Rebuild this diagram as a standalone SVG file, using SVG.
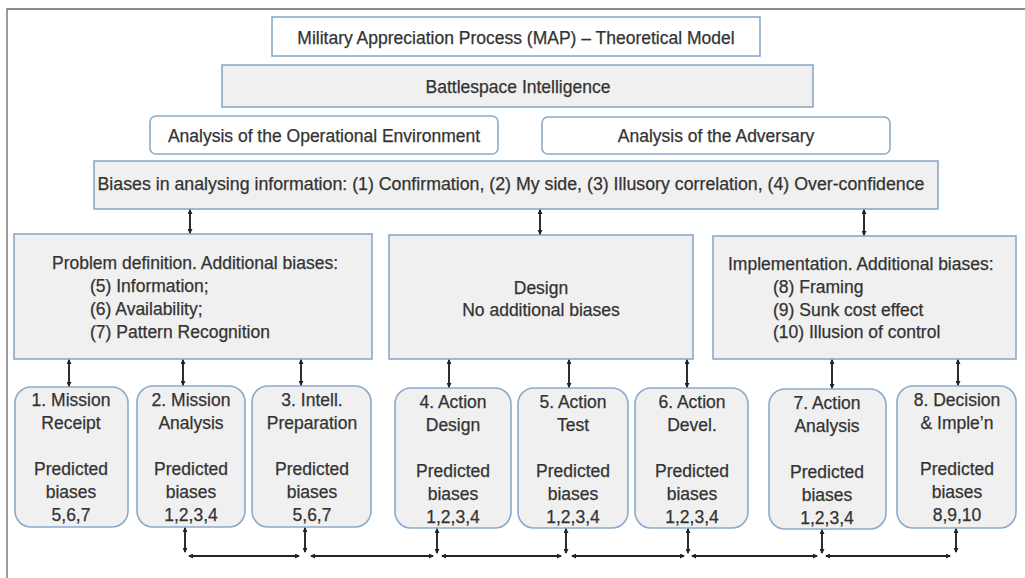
<svg xmlns="http://www.w3.org/2000/svg" width="1025" height="578" viewBox="0 0 1025 578">
<defs>
<style>
text{font-family:"Liberation Sans",Arial,sans-serif;font-size:17.5px;fill:#333;stroke:#333;stroke-width:0.25;}
.c{text-anchor:middle;}
.w{fill:#ffffff;stroke:#8aaacb;stroke-width:1.6;}
.g{fill:#f0f0f0;stroke:#8aaacb;stroke-width:1.6;}
.ln{stroke:#222;stroke-width:1.9;fill:none;marker-start:url(#ah);marker-end:url(#ah);}
</style>
<marker id="ah" viewBox="0 0 10 10" refX="8" refY="5" markerWidth="5" markerHeight="5" orient="auto-start-reverse" markerUnits="userSpaceOnUse">
<path d="M0,0 L10,5 L0,10 Z" fill="#222"/>
</marker>
</defs>
<rect width="1025" height="578" fill="#ffffff"/>
<path d="M7,578 V9 H1025" fill="none" stroke="#666" stroke-width="1.3"/>

<g id="title"><rect class="w" x="272" y="17" width="488" height="39"/><text class="c" x="516" y="44">Military Appreciation Process (MAP) – Theoretical Model</text></g>
<g id="battlespace"><rect class="g" x="222" y="65" width="591" height="42"/><text class="c" x="518" y="93">Battlespace Intelligence</text></g>
<g id="openv"><rect class="w" x="150" y="116" width="348" height="38" rx="6"/><text class="c" x="324" y="142">Analysis of the Operational Environment</text></g>
<g id="adversary"><rect class="w" x="542" y="117" width="348" height="37" rx="6"/><text class="c" x="716" y="142">Analysis of the Adversary</text></g>
<g id="biases"><rect class="g" x="94" y="161" width="844" height="48"/><text class="c" x="511" y="190" textLength="827" lengthAdjust="spacingAndGlyphs">Biases in analysing information: (1) Confirmation, (2) My side, (3) Illusory correlation, (4) Over-confidence</text></g>

<g id="problem"><rect class="g" x="14" y="234" width="358" height="125"/>
<text x="52" y="269">Problem definition. Additional biases:</text>
<text x="90" y="292">(5) Information;</text>
<text x="90" y="315">(6) Availability;</text>
<text x="90" y="338">(7) Pattern Recognition</text></g>
<g id="design"><rect class="g" x="389" y="235" width="304" height="124"/>
<text class="c" x="541" y="294">Design</text>
<text class="c" x="541" y="316">No additional biases</text></g>
<g id="implementation"><rect class="g" x="713" y="236" width="303" height="123"/>
<text x="728" y="270">Implementation. Additional biases:</text>
<text x="773" y="293">(8) Framing</text>
<text x="773" y="316">(9) Sunk cost effect</text>
<text x="773" y="338">(10) Illusion of control</text></g>

<g id="s1"><rect class="g" x="15" y="387" width="113" height="140" rx="16"/>
<text class="c" x="71" y="406">1. Mission</text><text class="c" x="71" y="429">Receipt</text><text class="c" x="71" y="475">Predicted</text><text class="c" x="71" y="498">biases</text><text class="c" x="71" y="521">5,6,7</text></g>
<g id="s2"><rect class="g" x="137" y="386" width="108" height="141" rx="16"/>
<text class="c" x="191" y="406">2. Mission</text><text class="c" x="191" y="429">Analysis</text><text class="c" x="191" y="475">Predicted</text><text class="c" x="191" y="498">biases</text><text class="c" x="191" y="521">1,2,3,4</text></g>
<g id="s3"><rect class="g" x="252" y="386" width="119" height="141" rx="16"/>
<text class="c" x="312" y="406">3. Intell.</text><text class="c" x="312" y="429">Preparation</text><text class="c" x="312" y="475">Predicted</text><text class="c" x="312" y="498">biases</text><text class="c" x="312" y="521">5,6,7</text></g>
<g id="s4"><rect class="g" x="395" y="388" width="116" height="140" rx="16"/>
<text class="c" x="453" y="408">4. Action</text><text class="c" x="453" y="431">Design</text><text class="c" x="453" y="477">Predicted</text><text class="c" x="453" y="500">biases</text><text class="c" x="453" y="523">1,2,3,4</text></g>
<g id="s5"><rect class="g" x="518" y="388" width="110" height="140" rx="16"/>
<text class="c" x="573" y="408">5. Action</text><text class="c" x="573" y="431">Test</text><text class="c" x="573" y="477">Predicted</text><text class="c" x="573" y="500">biases</text><text class="c" x="573" y="523">1,2,3,4</text></g>
<g id="s6"><rect class="g" x="635" y="388" width="113" height="140" rx="16"/>
<text class="c" x="692" y="408">6. Action</text><text class="c" x="692" y="431">Devel.</text><text class="c" x="692" y="477">Predicted</text><text class="c" x="692" y="500">biases</text><text class="c" x="692" y="523">1,2,3,4</text></g>
<g id="s7"><rect class="g" x="769" y="389" width="117" height="140" rx="16"/>
<text class="c" x="827" y="409">7. Action</text><text class="c" x="827" y="432">Analysis</text><text class="c" x="827" y="478">Predicted</text><text class="c" x="827" y="501">biases</text><text class="c" x="827" y="524">1,2,3,4</text></g>
<g id="s8"><rect class="g" x="897" y="386" width="119" height="142" rx="16"/>
<text class="c" x="957" y="406">8. Decision</text><text class="c" x="957" y="429">&amp; Imple’n</text><text class="c" x="957" y="475">Predicted</text><text class="c" x="957" y="498">biases</text><text class="c" x="957" y="521">8,9,10</text></g>

<g id="connectors">
<line class="ln" x1="190" y1="210" x2="190" y2="233"/>
<line class="ln" x1="540" y1="210" x2="540" y2="234"/>
<line class="ln" x1="864" y1="210" x2="864" y2="235"/>
<line class="ln" x1="69" y1="360" x2="69" y2="386"/>
<line class="ln" x1="183" y1="360" x2="183" y2="385"/>
<line class="ln" x1="301" y1="360" x2="301" y2="385"/>
<line class="ln" x1="449" y1="360" x2="449" y2="387"/>
<line class="ln" x1="569" y1="360" x2="569" y2="387"/>
<line class="ln" x1="687" y1="360" x2="687" y2="387"/>
<line class="ln" x1="832" y1="360" x2="832" y2="388"/>
<line class="ln" x1="958" y1="360" x2="958" y2="385"/>
<line class="ln" x1="185" y1="528" x2="185" y2="552"/>
<line class="ln" x1="305" y1="528" x2="305" y2="552"/>
<line class="ln" x1="437" y1="529" x2="437" y2="553"/>
<line class="ln" x1="566" y1="529" x2="566" y2="553"/>
<line class="ln" x1="688" y1="529" x2="688" y2="553"/>
<line class="ln" x1="822" y1="530" x2="822" y2="553"/>
<line class="ln" x1="956" y1="529" x2="956" y2="552"/>
<line class="ln" x1="189" y1="556" x2="299" y2="556"/>
<line class="ln" x1="311" y1="556" x2="433" y2="556"/>
<line class="ln" x1="442" y1="556" x2="561" y2="556"/>
<line class="ln" x1="572" y1="556" x2="684" y2="556"/>
<line class="ln" x1="692" y1="556" x2="817" y2="556"/>
<line class="ln" x1="826" y1="556" x2="950" y2="556"/>
</g>
</svg>
